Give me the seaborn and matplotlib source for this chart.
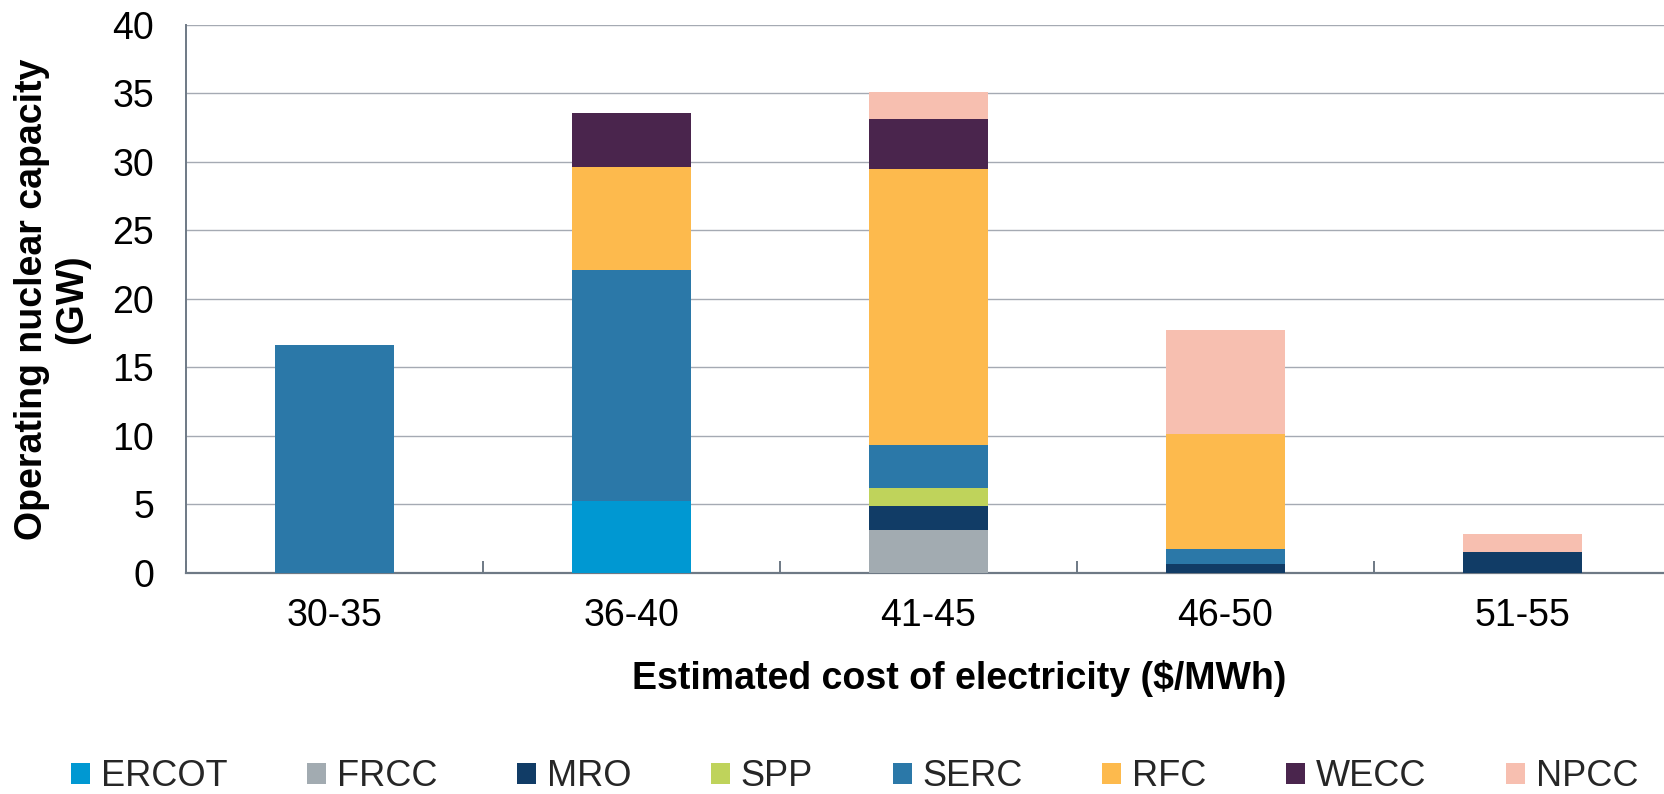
import numpy as np
import pandas as pd
import matplotlib
matplotlib.use("Agg")
import matplotlib.pyplot as plt
import seaborn as sns
from matplotlib.patches import Patch

# cost bins on the x axis
categories = ["30-35", "36-40", "41-45", "46-50", "51-55"]

# operating nuclear capacity (GW) per region, stacked bottom to top
regions = ["ERCOT", "FRCC", "MRO", "SPP", "SERC", "RFC", "WECC", "NPCC"]
ercot = [0, 5.25, 0, 0, 0]
frcc = [0, 0, 3.15, 0, 0]
mro = [0, 0, 1.7, 0.6, 1.5]
spp = [0, 0, 1.3, 0, 0]
serc = [16.6, 16.85, 3.15, 1.15, 0]
rfc = [0, 7.55, 20.2, 8.35, 0]
wecc = [0, 3.95, 3.6, 0, 0]
npcc = [0, 0, 2.0, 7.65, 1.35]

colors = ["#0098D2", "#A2ABB1", "#113C66", "#BFD35B",
          "#2B78A8", "#FDBA4D", "#4A254D", "#F7BFB0"]

df = pd.DataFrame(
    {"ERCOT": ercot, "FRCC": frcc, "MRO": mro, "SPP": spp,
     "SERC": serc, "RFC": rfc, "WECC": wecc, "NPCC": npcc},
    index=categories,
)
cum = df.cumsum(axis=1)

sns.set_theme(style="white")
plt.rcParams["font.family"] = ["Liberation Sans", "DejaVu Sans"]

fig = plt.figure(figsize=(16.65, 7.94), dpi=100)
ax = fig.add_axes([186 / 1665, 1 - 572.7 / 794, 1485 / 1665, (572.7 - 25) / 794])

# stacked bars: draw cumulative totals from the top layer down
for reg, col in reversed(list(zip(regions, colors))):
    sns.barplot(x=categories, y=cum[reg].values, color=col, width=0.4,
                saturation=1, linewidth=0, ax=ax, zorder=3)

axis_col = "#6E7985"
ax.set_xlim(-0.5, 4.5)
ax.set_ylim(0, 40)
ax.set_yticks(np.arange(0, 41, 5))
ax.yaxis.grid(True, color="#A5AAB3", linewidth=1.0, zorder=0)
ax.set_axisbelow(True)

for s in ["top", "right"]:
    ax.spines[s].set_visible(False)
ax.spines["bottom"].set_color(axis_col)
ax.spines["bottom"].set_linewidth(1.6)
ax.spines["left"].set_color(axis_col)
ax.spines["left"].set_linewidth(1.4)

ax.set_xticks(np.arange(-0.5, 5, 1), minor=True)
ax.tick_params(axis="x", which="minor", direction="in", length=8.5,
               width=1.4, color=axis_col, bottom=True)
ax.tick_params(axis="x", which="major", length=0, pad=18, labelsize=27,
               labelcolor="black")
ax.tick_params(axis="y", length=0, pad=23, labelsize=27, labelcolor="black")

ax.set_xlabel("Estimated cost of electricity ($/MWh)", fontsize=27,
              fontweight="bold", color="black", labelpad=19)
ax.xaxis.label.set_x(0.521)
ax.set_ylabel("Operating nuclear capacity\n(GW)", fontsize=27,
              fontweight="bold", color="black", labelpad=16, linespacing=1.15)

handles = [Patch(facecolor=c, edgecolor="none", label=r) for r, c in zip(regions, colors)]
fig.legend(handles=handles, loc="center left", bbox_to_anchor=(71 / 1665, 1 - 777 / 794),
           ncol=8, frameon=False, fontsize=26, handlelength=0.53, handleheight=0.53,
           handletextpad=0.3, columnspacing=2.2, borderpad=0, borderaxespad=0)

fig.savefig("out.png", dpi=100)
